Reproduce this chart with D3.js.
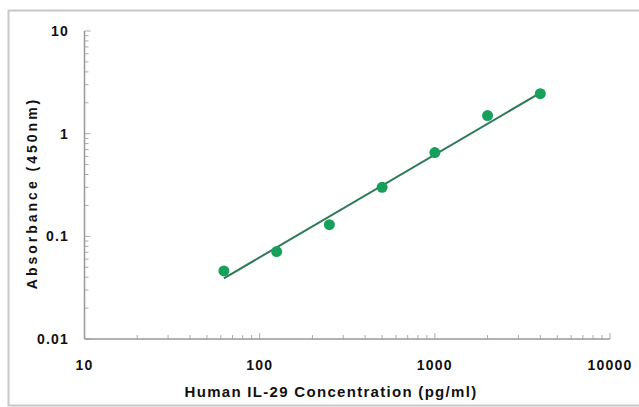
<!DOCTYPE html>
<html>
<head>
<meta charset="utf-8">
<script src="https://cdn.jsdelivr.net/npm/d3@7"></script>
<style>
  body { margin: 0; background: #fff; }
  svg text { font-family: Arial, "Liberation Sans", sans-serif; font-weight: bold; fill: #111; }
</style>
</head>
<body>
<div id="chart"></div>
<script>
// standard curve data
var concs = [62.5, 125, 250, 500, 1000, 2000, 4000];
var absorb = [0.046, 0.071, 0.13, 0.30, 0.655, 1.5, 2.45];
// fitted line ends
var fitX = [62.5, 4000];
var fitY = [0.039, 2.5];
var xTicks = [10, 100, 1000, 10000];
var yTicks = [0.01, 0.1, 1, 10];

var W = 639, H = 407;
var svg = d3.select('#chart').append('svg')
	.attr('width', W)
	.attr('height', H);

// outer frame
svg.append('rect')
	.attr('x', 8.5).attr('y', 10.5)
	.attr('width', W).attr('height', H - 12)
	.attr('fill', 'none')
	.attr('stroke', '#c8c8c8')
	.attr('stroke-width', 2);

var x = d3.scaleLog().domain([10, 10000]).range([84.5, 610]);
var y = d3.scaleLog().domain([0.01, 10]).range([339, 31]);

// minor ticks (inside)
var minorX = [];
var minorY = [];
[10, 100, 1000].forEach(function(d){
	for (var k = 2; k <= 9; k++) minorX.push(d * k);
});
[0.01, 0.1, 1].forEach(function(d){
	for (var k = 2; k <= 9; k++) minorY.push(d * k);
});

var g = svg.append('g');
g.selectAll('.mx').data(minorX).enter().append('line')
	.attr('x1', function(d){ return x(d); })
	.attr('x2', function(d){ return x(d); })
	.attr('y1', y(0.01)).attr('y2', y(0.01) - 4)
	.attr('stroke', '#aaa');
g.selectAll('.Mx').data(xTicks).enter().append('line')
	.attr('x1', function(d){ return x(d); })
	.attr('x2', function(d){ return x(d); })
	.attr('y1', y(0.01)).attr('y2', y(0.01) - 6)
	.attr('stroke', '#aaa');
g.selectAll('.my').data(minorY).enter().append('line')
	.attr('y1', function(d){ return y(d); })
	.attr('y2', function(d){ return y(d); })
	.attr('x1', x(10)).attr('x2', x(10) + 4)
	.attr('stroke', '#aaa');
g.selectAll('.My').data(yTicks).enter().append('line')
	.attr('y1', function(d){ return y(d); })
	.attr('y2', function(d){ return y(d); })
	.attr('x1', x(10)).attr('x2', x(10) + 6)
	.attr('stroke', '#aaa');

// axis lines
g.append('line')
	.attr('x1', x(10)).attr('x2', x(10))
	.attr('y1', y(10)).attr('y2', y(0.01))
	.attr('stroke', '#999').attr('stroke-width', 1.5);
g.append('line')
	.attr('x1', x(10)).attr('x2', x(10000))
	.attr('y1', y(0.01)).attr('y2', y(0.01))
	.attr('stroke', '#999').attr('stroke-width', 1.5);

// tick labels
svg.selectAll('.xl').data(xTicks).enter().append('text')
	.attr('x', function(d){ return x(d); })
	.attr('y', 370)
	.attr('text-anchor', 'middle')
	.attr('font-size', '14px')
	.attr('letter-spacing', '1.2px')
	.text(function(d){ return d; });
svg.selectAll('.yl').data(yTicks).enter().append('text')
	.attr('x', 69)
	.attr('y', function(d){ return y(d) + 5; })
	.attr('text-anchor', 'end')
	.attr('font-size', '14px')
	.attr('letter-spacing', '1.2px')
	.text(function(d){ return d; });

// axis titles
svg.append('text')
	.attr('x', 331).attr('y', 397)
	.attr('text-anchor', 'middle')
	.attr('font-size', '15px')
	.attr('letter-spacing', '1.3px')
	.text('Human IL-29 Concentration (pg/ml)');
svg.append('text')
	.attr('transform', 'translate(37,193) rotate(-90)')
	.attr('text-anchor', 'middle')
	.attr('font-size', '14px')
	.attr('letter-spacing', '3px')
	.text('Absorbance (450nm)');

// fit line
var line = d3.line()
	.x(function(d){ return x(d[0]); })
	.y(function(d){ return y(d[1]); });
svg.append('path')
	.datum(d3.zip(fitX, fitY))
	.attr('d', line)
	.attr('fill', 'none')
	.attr('stroke', '#2f7a58')
	.attr('stroke-width', 2);

// points
svg.selectAll('circle').data(d3.zip(concs, absorb)).enter().append('circle')
	.attr('cx', function(d){ return x(d[0]); })
	.attr('cy', function(d){ return y(d[1]); })
	.attr('r', 5.5)
	.attr('fill', '#16a05a');
</script>
</body>
</html>
